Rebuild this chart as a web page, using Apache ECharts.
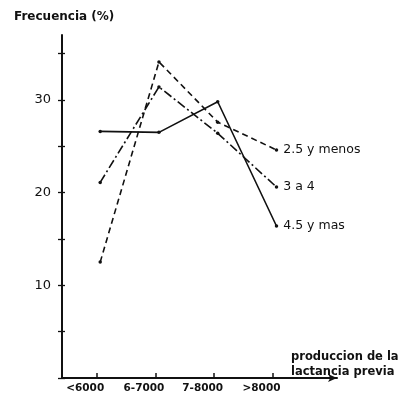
<!DOCTYPE html>
<html>
<head>
<meta charset="utf-8">
<script src="https://cdn.jsdelivr.net/npm/echarts@6/dist/echarts.min.js"></script>
<style>
  html, body { margin: 0; padding: 0; background: #fff; }
  #chart { width: 405px; height: 398px; }
</style>
</head>
<body>
<div id="chart"></div>
<script>
// Production of the previous lactation (kg)
const categories = ['<6000', '6-7000', '7-8000', '>8000'];
// Frequency (%) by group
const seriesNames = ['2.5 y menos', '3 a 4', '4.5 y mas'];
const menos25 = [12.5, 34.1, 27.6, 24.6];
const tres4 = [21.1, 31.4, 26.4, 20.6];
const mas45 = [26.6, 26.5, 29.8, 16.4];
const yTicks = [0, 5, 10, 15, 20, 25, 30, 35];
const yLabels = [10, 20, 30];

const ink = '#111';
const font = 'DejaVu Sans';

function pts(values) {
  return values.map((v, i) => [i, v]);
}

function makeSeries(name, values, lineType) {
  return {
    name: name,
    type: 'line',
    data: pts(values),
    symbol: 'circle',
    symbolSize: 3.5,
    itemStyle: { color: ink },
    lineStyle: { color: ink, width: 1.6, type: lineType },
    label: {
      show: true,
      position: 'right',
      distance: 5,
      color: ink,
      fontFamily: font,
      fontSize: 12.5,
      formatter: p => (p.dataIndex === values.length - 1 ? name : '')
    },
    emphasis: { disabled: true },
    z: 3
  };
}

const chart = echarts.init(document.getElementById('chart'), null, { renderer: 'canvas' });

chart.setOption({
  animation: false,
  backgroundColor: '#fff',
  title: [
    {
      text: 'Frecuencia (%)',
      left: 9, top: 6,
      textStyle: { fontFamily: font, fontSize: 12, fontWeight: 'bold', color: ink }
    },
    {
      text: 'produccion de la\nlactancia previa',
      left: 286, top: 345,
      textStyle: { fontFamily: font, fontSize: 11.5, fontWeight: 'bold', color: ink, lineHeight: 15 }
    }
  ],
  grid: { left: 62, right: 68, top: 35, bottom: 20, containLabel: false },
  xAxis: {
    type: 'value',
    min: -0.65,
    max: 4.03,
    axisLine: {
      show: true, onZero: false,
      lineStyle: { color: ink, width: 2 },
      symbol: ['none', 'arrow'],
      symbolSize: [6, 9]
    },
    axisTick: {
      show: true, inside: true, length: 5,
      customValues: categories.map((c, i) => i - 0.06),
      lineStyle: { color: ink, width: 1.5 }
    },
    axisLabel: {
      show: true,
      customValues: categories.map((c, i) => i),
      formatter: v => categories[Math.round(v)] || '',
      fontFamily: font, fontSize: 10.5, fontWeight: 'bold', color: ink,
      margin: 5,
      padding: [0, 30, 0, 0]
    },
    splitLine: { show: false }
  },
  yAxis: [
    {
      type: 'value',
      min: 0,
      max: 37,
      interval: 5,
      axisLine: { show: true, onZero: false, lineStyle: { color: ink, width: 2 } },
      axisTick: {
        show: true, length: 4,
        customValues: yTicks,
        lineStyle: { color: ink, width: 1.3 }
      },
      axisLabel: {
        customValues: yLabels,
        fontFamily: font, fontSize: 13, color: ink, margin: 11
      },
      splitLine: { show: false }
    },
    {
      type: 'value',
      position: 'left',
      min: 0,
      max: 37,
      interval: 5,
      axisLine: { show: false, onZero: false },
      axisTick: {
        show: true, inside: true, length: 3,
        customValues: yTicks,
        lineStyle: { color: ink, width: 1.3 }
      },
      axisLabel: { show: false },
      splitLine: { show: false }
    }
  ],
  series: [
    makeSeries(seriesNames[0], menos25, [6, 4]),
    makeSeries(seriesNames[1], tres4, [9, 3, 2, 3]),
    makeSeries(seriesNames[2], mas45, 'solid')
  ]
});
</script>
</body>
</html>
